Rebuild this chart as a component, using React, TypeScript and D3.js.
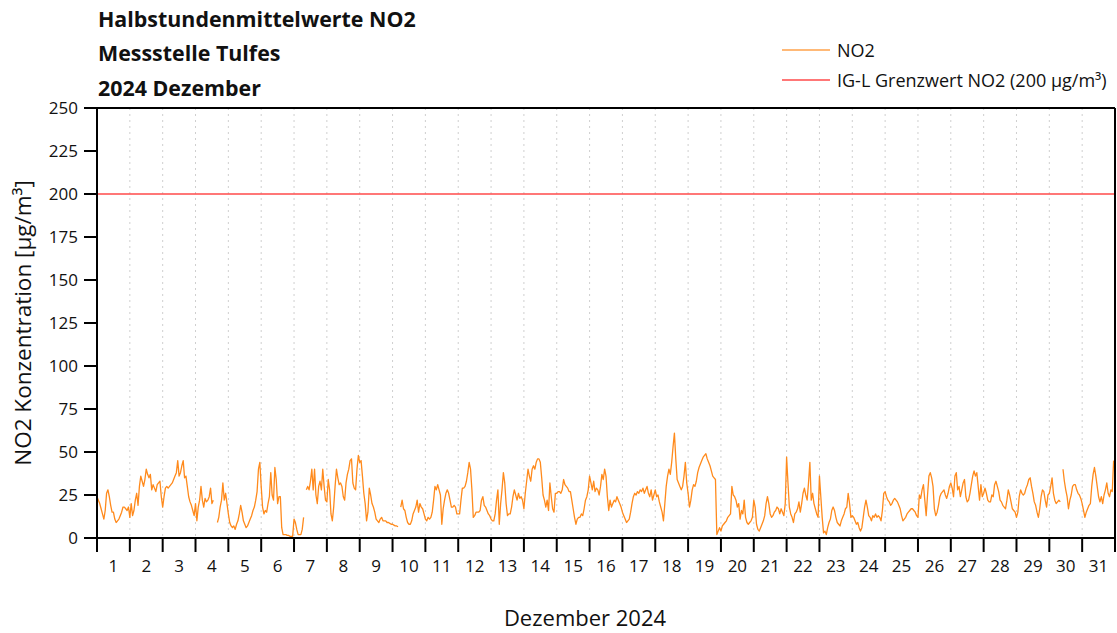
import { useMemo } from 'react';
import * as d3 from 'd3';

const days: number[] = d3.range(1, 32);
const yTicks: number[] = [0, 25, 50, 75, 100, 125, 150, 175, 200, 225, 250];
const grenzwert = 200;

const no2Values: (number | null)[][] = [
  [24, 22, 20, 17, 14, 11, 16, 26, 28, 24, 19, 15, 15, 11, 9, 10, 11, 13, 15, 18, 18, 17, 16, 18],
  [12, 20, 13, 16, 22, 26, 19, 30, 36, 33, 30, 34, 40, 37, 35, 37, 28, 31, 29, 27, 31, 32, 33, 24],
  [18, 24, 29, 30, 29, 30, 31, 32, 34, 36, 38, 45, 36, 38, 42, 45, 35, 36, 30, 24, 21, 19, 16, 13],
  [20, 10, 18, 22, 30, 22, 18, 23, 21, 22, 24, 29, 20, 22, null, null, 9, 12, 18, 22, 32, 22, 26, 20],
  [14, 9, 7, 6, 7, 5, 8, 10, 14, 19, 15, 10, 8, 6, 7, 9, 11, 13, 16, 18, 22, 27, 40, 44],
  [30, 18, 14, 16, 15, 20, 24, 38, 25, 22, 41, 34, 20, 24, 24, 6, 2, 2, 2, 1.5, 1.5, 1, 1, 1],
  [11, 9, 5, 2, 2, 2, 5, 12, null, 28, 30, 28, 33, 40, 28, 40, 25, 20, 30, 33, 28, 40, 30, 22],
  [21, 34, 28, 14, 10, 18, 30, 40, 35, 31, 32, 30, 24, 22, 32, 37, 40, 45, 46, 32, 29, 28, 40, 48],
  [44, 45, 36, 26, 20, 10, 15, 29, 25, 20, 18, 15, 11, 10, 9, 11, 12, 10, 10, 10, 9, 9, 8.5, 8],
  [8, 7.5, 7, 7, 6.5, null, 18, 22, 17, 16, 12, 9, 8, 8, 10, 14, 16, 18, 22, 15, 20, 18, 17, 14],
  [11, 10, 12, 11, 12, 15, 22, 30, 28, 31, 28, 25, 8, 17, 22, 26, 28, 26, 22, 18, 18, 19, 18, 14],
  [14, 14, 22, 29, 29, 30, 33, 38, 44, 40, 28, 12, 13, 15, 15, 15, 16, 22, 24, 19, 18, 16, 14, 13],
  [11, 10, 10, 14, 22, 28, 8, 20, 28, 38, 32, 20, 13, 14, 14, 18, 24, 28, 25, 22, 26, 23, 24, 22],
  [17, 26, 33, 40, 36, 33, 40, 42, 40, 44, 46, 46, 44, 35, 25, 22, 18, 22, 16, 32, 24, 17, 15, 26],
  [26, 27, 27, 26, 28, 34, 31, 30, 29, 27, 27, 22, 17, 12, 8, 11, 12, 12, 14, 13, 17, 22, 24, 28],
  [36, 32, 28, 33, 27, 29, 28, 25, 30, 37, 34, 40, 36, 24, 16, 22, 18, 20, 22, 21, 24, 22, 20, 18],
  [15, 13, 11, 9, 10, 11, 15, 20, 24, 26, 25, 27, 26, 28, 27, 29, 26, 28, 30, 26, 24, 28, 22, 25],
  [28, 24, 25, 21, 18, 15, 10, 20, 30, 36, 40, 37, 44, 53, 61, 46, 34, 32, 30, 28, 30, 36, 44, 32],
  [26, 18, 22, 28, 31, 30, 33, 38, 41, 43, 45, 47, 48, 49, 46, 44, 42, 39, 36, 35, 34, 2, 4, 6],
  [4, 7, 8, 9, 10, 12, 13, 14, 30, 25, 24, 22, 18, 20, 11, 16, 14, 22, 12, 9, 8, 9, 10, 12],
  [22, 18, 8, 5, 4, 6, 8, 10, 13, 20, 24, 20, 14, 12, 13, 15, 16, 18, 17, 14, 17, 15, 13, 20],
  [47, 32, 18, 14, 12, 9, 14, 15, 17, 21, 15, 20, 26, 29, 25, 22, 32, 44, 22, 26, 20, 17, 14, 12],
  [36, 24, 12, 3, 4, 2, 6, 9, 11, 16, 18, 16, 12, 9, 8, 7, 10, 12, 14, 17, 18, 26, 20, 12],
  [13, 12, 10, 8, 9, 6, 4, 6, 12, 18, 22, 18, 13, 12, 10, 13, 12, 14, 12, 13, 12, 10, 16, 26],
  [27, 24, 22, 21, 19, 20, 22, 23, 22, 21, 19, 17, 13, 10, 11, 12, 14, 15, 16, 17, 17, 16, 15, 13],
  [12, 25, 23, 28, 31, 22, 13, 25, 36, 38, 35, 30, 17, 13, 15, 19, 24, 26, 27, 28, 25, 23, 26, 30],
  [32, 29, 24, 36, 38, 28, 30, 24, 28, 32, 34, 24, 21, 22, 26, 31, 36, 39, 36, 38, 30, 22, 31, 24],
  [26, 29, 26, 22, 21, 21, 25, 24, 31, 33, 30, 27, 22, 21, 19, 18, 17, 22, 28, 25, 21, 17, 16, 15],
  [12, 15, 24, 28, 26, 25, 26, 29, 31, 34, 35, 30, 26, 21, 19, 15, 12, 17, 24, 28, 27, 22, 18, 25],
  [26, 30, 35, 26, 22, 20, 21, 22, 21, null, 40, 33, 28, 24, 17, 22, 25, 30, 31, 31, 28, 26, 25, 23],
  [20, 16, 12, 15, 17, 19, 20, 30, 37, 41, 36, 30, 24, 21, 24, 20, 25, 28, 32, 26, 24, 28, 27, 45],
];

const W = 1117;
const H = 633;
const margin = { top: 108, right: 2, bottom: 95, left: 97 };
const font = "'Open Sans', sans-serif";

export default function App() {
  const x = d3.scaleLinear().domain([0, 31]).range([margin.left, W - margin.right]);
  const y = d3.scaleLinear().domain([0, 250]).range([H - margin.bottom, margin.top]);

  const points = useMemo(
    () =>
      no2Values.flatMap((row, di) =>
        row.map((v, h) => ({ t: di + h / 24, v })),
      ),
    [],
  );

  const line = d3
    .line<{ t: number; v: number | null }>()
    .defined((d) => d.v !== null)
    .x((d) => x(d.t))
    .y((d) => y(d.v as number));

  const [x0, x1] = x.range();
  const [y0, y1] = y.range();

  return (
    <svg width={W} height={H} style={{ position: 'absolute', left: 0, top: 0, background: '#fff' }}>
      {/* Titel */}
      <g fontFamily={font} fontWeight={700} fontSize={21.4} fill="#111">
        <text x={98} y={27}>Halbstundenmittelwerte NO2</text>
        <text x={98} y={61}>Messstelle Tulfes</text>
        <text x={98} y={96}>2024 Dezember</text>
      </g>

      {/* Legende */}
      <g fontFamily={font} fontSize={18} fill="#111">
        <line x1={782} x2={830} y1={50} y2={50} stroke="#ffa24a" strokeWidth={1.5} />
        <text x={837} y={57}>NO2</text>
        <line x1={782} x2={830} y1={80} y2={80} stroke="#ff4a4a" strokeWidth={1.5} />
        <text x={837} y={87}>IG-L Grenzwert NO2 (200 µg/m³)</text>
      </g>

      {/* Gitterlinien pro Tag */}
      {days.slice(1).map((d) => (
        <line
          key={'g' + d}
          x1={x(d - 1)}
          x2={x(d - 1)}
          y1={y1}
          y2={y0}
          stroke="#cfcfcf"
          strokeWidth={1}
          strokeDasharray="2,4"
        />
      ))}

      {/* Grenzwert */}
      <line x1={x0} x2={x1} y1={y(grenzwert)} y2={y(grenzwert)} stroke="#ff4a4a" strokeWidth={1.6} />

      {/* NO2 */}
      <path d={line(points) ?? ''} fill="none" stroke="#ff8a1c" strokeWidth={1.3} strokeLinejoin="round" />

      {/* Rahmen */}
      <line x1={x0} x2={x1} y1={y1} y2={y1} stroke="#000" strokeWidth={2} />
      <line x1={x1} x2={x1} y1={y1} y2={y0} stroke="#000" strokeWidth={2} />
      <line x1={x0} x2={x1} y1={y0} y2={y0} stroke="#000" strokeWidth={2} />
      <line x1={x0} x2={x0} y1={y1} y2={y0 + 14} stroke="#000" strokeWidth={2} />

      {/* Y-Achse */}
      <g fontFamily={font} fontSize={17} fill="#111" textAnchor="end">
        {yTicks.map((t) => (
          <g key={'y' + t}>
            <line x1={x0 - 13} x2={x0} y1={y(t)} y2={y(t)} stroke="#000" strokeWidth={2} />
            <text x={x0 - 19} y={y(t) + 6}>{t}</text>
          </g>
        ))}
      </g>
      <text
        transform={`translate(31,${(y0 + y1) / 2}) rotate(-90)`}
        textAnchor="middle"
        fontFamily={font}
        fontSize={22.5}
        fill="#111"
      >
        NO2 Konzentration [µg/m³]
      </text>

      {/* X-Achse */}
      <g fontFamily={font} fontSize={17} fill="#111" textAnchor="middle">
        {days.map((d) => (
          <g key={'x' + d}>
            <line x1={x(d)} x2={x(d)} y1={y0} y2={y0 + 14} stroke="#000" strokeWidth={2} />
            <text x={x(d - 0.5)} y={y0 + 34}>{d}</text>
          </g>
        ))}
      </g>
      <text x={585} y={626} textAnchor="middle" fontFamily={font} fontSize={22} fill="#111">
        Dezember 2024
      </text>
    </svg>
  );
}
